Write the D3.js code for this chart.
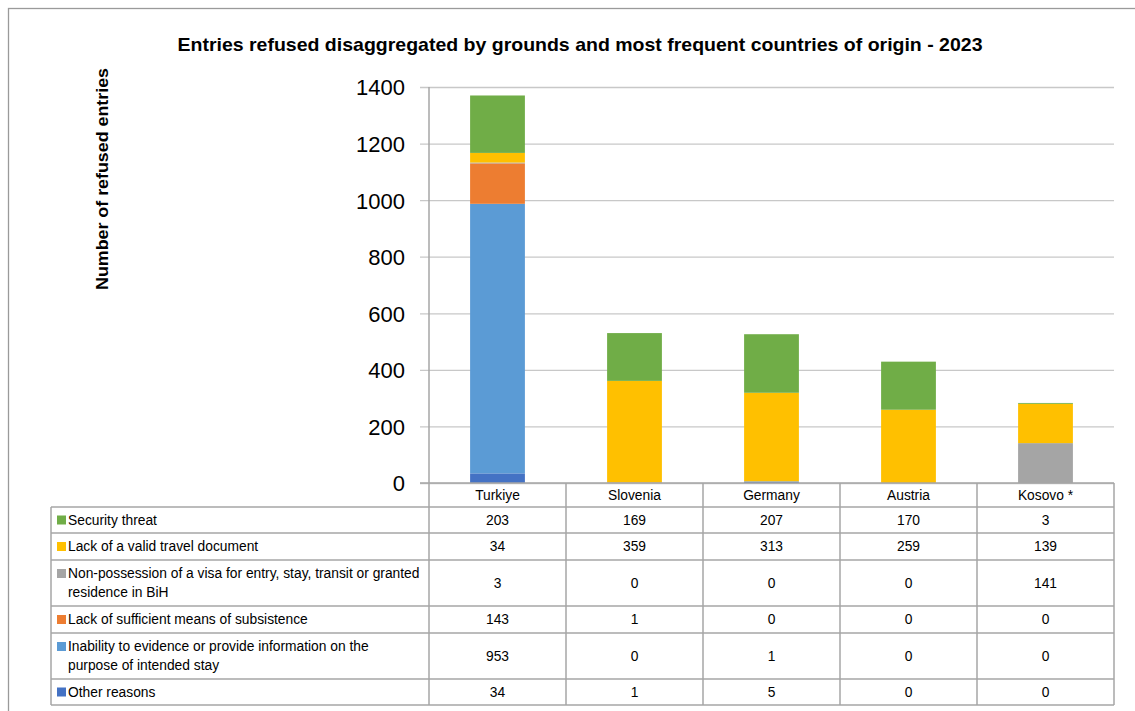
<!DOCTYPE html>
<html>
<head>
<meta charset="utf-8">
<script src="https://cdn.jsdelivr.net/npm/d3@7"></script>
<style>
  html, body { margin: 0; padding: 0; background: #fff; }
  svg { display: block; font-family: "Liberation Sans", Arial, sans-serif; }
</style>
</head>
<body>
<svg id="chart" width="1135" height="711"></svg>
<script>
// ---- data ----
const title = "Entries refused disaggregated by grounds and most frequent countries of origin - 2023";
const yAxisTitle = "Number of refused entries";
const countries = ["Turkiye", "Slovenia", "Germany", "Austria", "Kosovo *"];
// series listed in table order (top to bottom); stacked bottom-up in reverse
const seriesNames = [
  "Security threat",
  "Lack of a valid travel document",
  "Non-possession of a visa for entry, stay, transit or granted residence in BiH",
  "Lack of sufficient means of subsistence",
  "Inability to evidence or provide information on the purpose of intended stay",
  "Other reasons"
];
const seriesLabelLines = [
  ["Security threat"],
  ["Lack of a valid travel document"],
  ["Non-possession of a visa for entry, stay, transit or granted", "residence in BiH"],
  ["Lack of sufficient means of subsistence"],
  ["Inability to evidence or provide information on the", "purpose of intended stay"],
  ["Other reasons"]
];
const securityThreat   = [203, 169, 207, 170, 3];
const lackTravelDoc    = [34, 359, 313, 259, 139];
const nonPossessionVisa= [3, 0, 0, 0, 141];
const lackMeans        = [143, 1, 0, 0, 0];
const inabilityPurpose = [953, 0, 1, 0, 0];
const otherReasons     = [34, 1, 5, 0, 0];
const seriesValues = [securityThreat, lackTravelDoc, nonPossessionVisa, lackMeans, inabilityPurpose, otherReasons];
const seriesColors = ["#70AD47", "#FFC000", "#A5A5A5", "#ED7D31", "#5B9BD5", "#4472C4"];
const yTicks = [0, 200, 400, 600, 800, 1000, 1200, 1400];

// ---- layout ----
const svg = d3.select("#chart");
const plot = { left: 429, right: 1114, top: 87, bottom: 483 };
const tableLeft = 51;
const rowBounds = [483, 507, 533, 560, 606, 633, 679, 705]; // header + 6 rows
const gridColor = "#c8c8c8";
const tableColor = "#a6a6a6";
const cellFont = 13.8;

svg.append("rect").attr("x", 0).attr("y", 0).attr("width", 1135).attr("height", 711).attr("fill", "#fff");
// outer chart border
svg.append("rect").attr("x", 8.5).attr("y", 8.5).attr("width", 1140).attr("height", 720)
  .attr("fill", "none").attr("stroke", "#9a9a9a").attr("stroke-width", 1.3);

// title
svg.append("text").attr("x", 580).attr("y", 51).attr("text-anchor", "middle")
  .attr("font-weight", "bold").attr("font-size", 18.5).attr("fill", "#000")
  .attr("textLength", 805).attr("lengthAdjust", "spacingAndGlyphs").text(title);

// scales
const x = d3.scaleBand().domain(countries).range([plot.left, plot.right]).padding(0);
const y = d3.scaleLinear().domain([0, 1400]).range([plot.bottom, plot.top]);

// gridlines + tick marks
const yAxis = d3.axisLeft(y).tickValues(yTicks).tickFormat(d3.format("d"))
  .tickSize(-(plot.right - plot.left)).tickSizeOuter(0).tickPadding(16);
const gy = svg.append("g").attr("transform", `translate(${plot.left},0)`).call(yAxis);
gy.select(".domain").remove();
gy.selectAll(".tick line").attr("stroke", gridColor).attr("stroke-width", 1.3).attr("x1", -9);
gy.selectAll(".tick text").attr("font-size", 22).attr("fill", "#000")
  .attr("font-family", "Liberation Sans, Arial, sans-serif").attr("x", -24).attr("dy", "0.36em");

// y axis title
svg.append("text").attr("transform", "translate(108,179) rotate(-90)").attr("text-anchor", "middle")
  .attr("font-weight", "bold").attr("font-size", 16.5).attr("fill", "#000")
  .attr("textLength", 222).attr("lengthAdjust", "spacingAndGlyphs").text(yAxisTitle);

// stacked bars: bottom-up order is reverse of table order
const stackOrder = d3.range(seriesNames.length).reverse();
const tableRows = countries.map((c, i) => {
  const o = { country: c };
  seriesNames.forEach((s, j) => o[s] = seriesValues[j][i]);
  return o;
});
const stack = d3.stack().keys(stackOrder.map(j => seriesNames[j]));
const stacked = stack(tableRows);
const barW = x.bandwidth() * 0.4;
stacked.forEach(layer => {
  const j = seriesNames.indexOf(layer.key);
  svg.append("g").selectAll("rect").data(layer).join("rect")
    .attr("x", d => x(d.data.country) + (x.bandwidth() - barW) / 2)
    .attr("width", barW)
    .attr("y", d => y(d[1]))
    .attr("height", d => Math.max(0, y(d[0]) - y(d[1])))
    .attr("fill", seriesColors[j]);
});

// axis line (left)
svg.append("line").attr("x1", plot.left).attr("x2", plot.left).attr("y1", plot.top).attr("y2", rowBounds[rowBounds.length - 1])
  .attr("stroke", tableColor).attr("stroke-width", 1.5);

// ---- data table ----
const tg = svg.append("g");
tg.append("line").attr("x1", plot.left - 9).attr("x2", plot.right).attr("y1", rowBounds[0]).attr("y2", rowBounds[0])
  .attr("stroke", tableColor).attr("stroke-width", 1.5);
rowBounds.slice(1).forEach(yy => {
  tg.append("line").attr("x1", tableLeft).attr("x2", plot.right).attr("y1", yy).attr("y2", yy)
    .attr("stroke", tableColor).attr("stroke-width", 1.5);
});
tg.append("line").attr("x1", tableLeft).attr("x2", tableLeft).attr("y1", rowBounds[1]).attr("y2", rowBounds[rowBounds.length - 1])
  .attr("stroke", tableColor).attr("stroke-width", 1.5);
countries.forEach(c => {
  const xr = x(c) + x.bandwidth();
  tg.append("line").attr("x1", xr).attr("x2", xr).attr("y1", rowBounds[0]).attr("y2", rowBounds[rowBounds.length - 1])
    .attr("stroke", tableColor).attr("stroke-width", 1.5);
});
countries.forEach(c => {
  tg.append("text").attr("x", x(c) + x.bandwidth() / 2).attr("y", (rowBounds[0] + rowBounds[1]) / 2)
    .attr("dy", "0.36em").attr("text-anchor", "middle").attr("font-size", cellFont).attr("fill", "#000").text(c);
});
seriesNames.forEach((s, j) => {
  const top = rowBounds[j + 1], bot = rowBounds[j + 2], mid = (top + bot) / 2;
  const lines = seriesLabelLines[j];
  const lh = 19;
  const firstY = mid - (lines.length - 1) * lh / 2;
  tg.append("rect").attr("x", 57).attr("y", firstY - 4.5).attr("width", 9).attr("height", 9).attr("fill", seriesColors[j]);
  lines.forEach((ln, k) => {
    tg.append("text").attr("x", 68).attr("y", firstY + k * lh).attr("dy", "0.36em")
      .attr("font-size", cellFont).attr("fill", "#000").text(ln);
  });
  countries.forEach((c, i) => {
    tg.append("text").attr("x", x(c) + x.bandwidth() / 2).attr("y", mid).attr("dy", "0.36em")
      .attr("text-anchor", "middle").attr("font-size", cellFont).attr("fill", "#000").text(seriesValues[j][i]);
  });
});
</script>
</body>
</html>
